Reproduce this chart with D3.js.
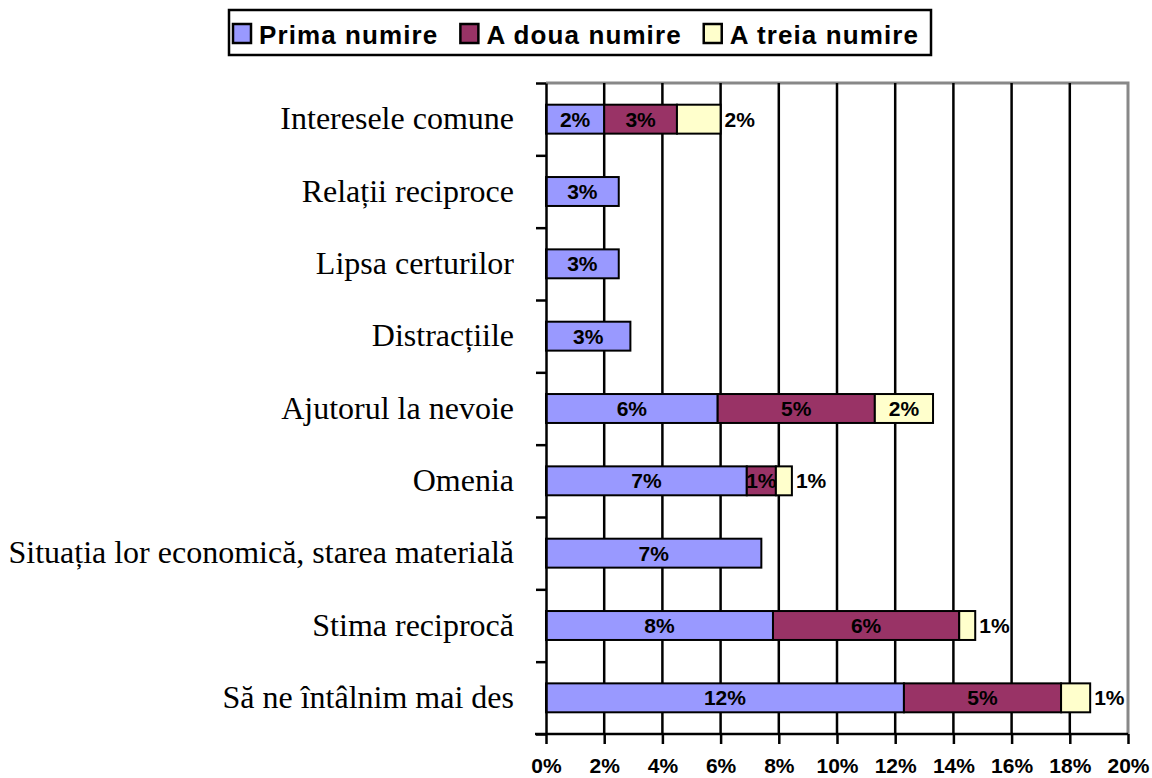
<!DOCTYPE html>
<html>
<head>
<meta charset="utf-8">
<script src="https://cdn.jsdelivr.net/npm/d3@7"></script>
<style>
  body { margin: 0; background: #fff; }
  svg { display: block; }
</style>
</head>
<body>
<div id="chart"></div>
<script>
// categories top to bottom
const categories = [
  'Interesele comune',
  'Relații reciproce',
  'Lipsa certurilor',
  'Distracțiile',
  'Ajutorul la nevoie',
  'Omenia',
  'Situația lor economică, starea materială',
  'Stima reciprocă',
  'Să ne întâlnim mai des'
];

const seriesNames = ['Prima numire', 'A doua numire', 'A treia numire'];
const seriesColors = ['#9999ff', '#993366', '#ffffcc'];

// percent values (0 = no segment)
const prima = [2.0, 2.5, 2.5, 2.9, 5.9, 6.9, 7.4, 7.8, 12.3];
const aDoua = [2.5, 0, 0, 0, 5.4, 1.0, 0, 6.4, 5.4];
const aTreia = [1.5, 0, 0, 0, 2.0, 0.55, 0, 0.55, 1.0];

const xTicks = [0, 2, 4, 6, 8, 10, 12, 14, 16, 18, 20];

const W = 1152, H = 778;
const plotL = 546, plotR = 1128, plotT = 83, plotB = 734;

const svg = d3.select('#chart').append('svg')
  .attr('width', W)
  .attr('height', H);

svg.append('rect').attr('width', W).attr('height', H).attr('fill', '#fff');

const x = d3.scaleLinear().domain([0, 20]).range([plotL, plotR]);
const y = d3.scaleBand().domain(categories).range([plotT, plotB]).padding(0);
const yEdge = d3.scaleLinear().domain([0, categories.length]).range([plotT, plotB]);
const barH = y.bandwidth() * 0.4;

// plot border (grey, top + right)
svg.append('path')
  .attr('d', `M${plotL},${plotT}H${plotR}V${plotB}`)
  .attr('fill', 'none')
  .attr('stroke', '#888')
  .attr('stroke-width', 3);

// gridlines
svg.append('g').selectAll('line')
  .data(xTicks.filter(d => d > 0 && d < 20))
  .enter().append('line')
    .attr('x1', d => x(d)).attr('x2', d => x(d))
    .attr('y1', plotT).attr('y2', plotB)
    .attr('stroke', '#000')
    .attr('stroke-width', 2.5);

// stacked data
const rows = categories.map((c, i) => ({cat: c, vals: [prima[i], aDoua[i], aTreia[i]]}));
const segs = [];
rows.forEach(r => {
  let acc = 0;
  r.vals.forEach((v, s) => {
    if (v > 0) segs.push({cat: r.cat, s: s, x0: acc, x1: acc + v, v: v});
    acc += v;
  });
});

svg.append('g').selectAll('rect')
  .data(segs)
  .enter().append('rect')
    .attr('x', d => x(d.x0))
    .attr('y', d => y(d.cat) + (y.bandwidth() - barH) / 2)
    .attr('width', d => x(d.x1) - x(d.x0))
    .attr('height', barH)
    .attr('fill', d => seriesColors[d.s])
    .attr('stroke', '#000')
    .attr('stroke-width', 2);

// value labels - small third segments get their label outside on the right
function outside(d) { return d.s === 2 && x(d.x1) - x(d.x0) < 50; }

svg.append('g').selectAll('text')
  .data(segs)
  .enter().append('text')
    .attr('x', d => outside(d) ? x(d.x1) + 4 : (x(d.x0) + x(d.x1)) / 2)
    .attr('y', d => y(d.cat) + y.bandwidth() / 2)
    .attr('dy', '0.36em')
    .attr('text-anchor', d => outside(d) ? 'start' : 'middle')
    .attr('font-family', 'Liberation Sans, Arial, sans-serif')
    .attr('font-weight', 'bold')
    .attr('font-size', 21)
    .attr('fill', '#000')
    .text(d => Math.round(d.v) + '%');

// x axis
const xAxis = svg.append('g')
  .attr('transform', `translate(0,${plotB})`)
  .call(d3.axisBottom(x).tickValues(xTicks).tickFormat(d => d + '%').tickSize(10).tickPadding(14).tickSizeOuter(0));
xAxis.select('.domain').attr('stroke', '#000').attr('stroke-width', 2.5).attr('d', `M${plotL - 11},0H${plotR}`);
xAxis.selectAll('.tick line').attr('stroke', '#000').attr('stroke-width', 2.5);
xAxis.selectAll('.tick text')
  .attr('font-family', 'Liberation Sans, Arial, sans-serif')
  .attr('font-weight', 'bold')
  .attr('font-size', 21)
  .attr('fill', '#000');

// y axis: line + ticks at category boundaries
const yAxis = svg.append('g')
  .attr('transform', `translate(${plotL},0)`)
  .call(d3.axisLeft(yEdge).tickValues(d3.range(categories.length + 1)).tickFormat('').tickSize(10).tickSizeOuter(0));
yAxis.select('.domain').attr('stroke', '#000').attr('stroke-width', 2.5);
yAxis.selectAll('.tick line').attr('stroke', '#000').attr('stroke-width', 2.5);

// category labels
const yLab = svg.append('g')
  .attr('transform', `translate(${plotL},0)`)
  .call(d3.axisLeft(y).tickSize(0).tickPadding(32));
yLab.select('.domain').remove();
yLab.selectAll('.tick text')
  .attr('font-family', 'Liberation Serif, Times New Roman, serif')
  .attr('font-size', 32)
  .attr('fill', '#000');

// legend
const legend = svg.append('g');
let lx = 233;
seriesNames.forEach((name, i) => {
  legend.append('rect')
    .attr('x', lx).attr('y', 24)
    .attr('width', 18).attr('height', 19)
    .attr('fill', seriesColors[i])
    .attr('stroke', '#000')
    .attr('stroke-width', 2.5);
  let t = legend.append('text')
    .attr('x', lx + 26).attr('y', 44)
    .attr('font-family', 'Liberation Sans, Arial, sans-serif')
    .attr('font-weight', 'bold')
    .attr('font-size', 26)
    .attr('letter-spacing', 1.1)
    .attr('fill', '#000')
    .text(name);
  lx += 26 + t.node().getComputedTextLength() + 22;
});
legend.insert('rect', ':first-child')
  .attr('x', 229).attr('y', 10)
  .attr('width', lx - 229 - 10).attr('height', 45)
  .attr('fill', '#fff')
  .attr('stroke', '#000')
  .attr('stroke-width', 2.5);
</script>
</body>
</html>
